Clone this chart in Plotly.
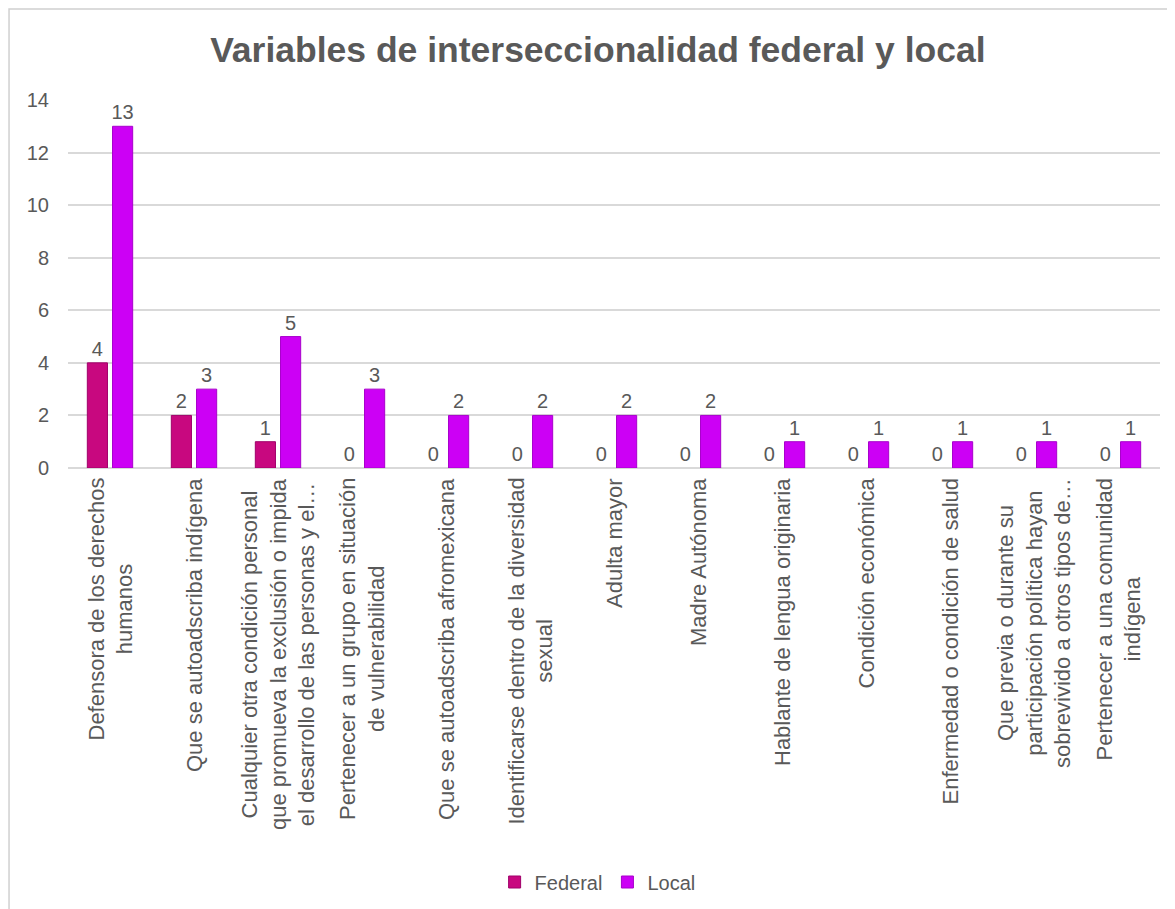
import plotly.graph_objects as go

categories = [
    "Defensora de los derechos<br>humanos",
    "Que se autoadscriba indígena",
    "Cualquier otra condición personal<br>que promueva la exclusión o impida<br>el desarrollo de las personas y el…",
    "Pertenecer a un grupo en situación<br>de vulnerabilidad",
    "Que se autoadscriba afromexicana",
    "Identificarse dentro de la diversidad<br>sexual",
    "Adulta mayor",
    "Madre Autónoma",
    "Hablante de lengua originaria",
    "Condición económica",
    "Enfermedad o condición de salud",
    "Que previa o durante su<br>participación política hayan<br>sobrevivido a otros tipos de…",
    "Pertenecer a una comunidad<br>indígena",
]
federal = [4, 2, 1, 0, 0, 0, 0, 0, 0, 0, 0, 0, 0]
local = [13, 3, 5, 3, 2, 2, 2, 2, 1, 1, 1, 1, 1]
y_ticks = [0, 2, 4, 6, 8, 10, 12, 14]

GREY = "#595959"
FONT = "Arial, Liberation Sans, sans-serif"


def outline(values):
    # no outline on empty bars, otherwise a stub shows on the baseline
    return [1 if v else 0 for v in values]


fig = go.Figure()
fig.add_trace(go.Bar(
    x=categories, y=federal, name="Federal",
    marker=dict(color="#C8087F",
                line=dict(color="#A0006A", width=outline(federal))),
    text=federal, textposition="outside", cliponaxis=False,
    constraintext="none",
    textfont=dict(color=GREY, size=20),
))
fig.add_trace(go.Bar(
    x=categories, y=local, name="Local",
    marker=dict(color="#CC00F5",
                line=dict(color="#A800CC", width=outline(local))),
    text=local, textposition="outside", cliponaxis=False,
    constraintext="none",
    textfont=dict(color=GREY, size=20),
))

# category labels: rotated, lines centred like the original
for cat in categories:
    fig.add_annotation(
        x=cat, y=0, xref="x", yref="paper",
        text=cat, showarrow=False, textangle=-90,
        xanchor="center", yanchor="top", align="center",
        yshift=-8, font=dict(size=22, color=GREY),
    )

fig.update_layout(
    width=1175, height=909,
    margin=dict(l=60, r=23, t=92, b=449),
    paper_bgcolor="white", plot_bgcolor="white",
    font=dict(family=FONT, color=GREY, size=20),
    title=dict(
        text="<b>Variables de interseccionalidad federal y local</b>",
        x=0.502, xanchor="center", y=0.954, yanchor="middle",
        font=dict(size=35.5, color=GREY),
    ),
    barmode="group", bargap=0.40, bargroupgap=0.2,
    showlegend=True,
    legend=dict(
        orientation="h", x=0.485, xanchor="center",
        y=-1.125, yanchor="middle",
        font=dict(size=20, color=GREY),
        itemwidth=30,
    ),
    # chart frame (only top/left edges visible in the crop)
    shapes=[dict(
        type="rect", xref="paper", yref="paper",
        x0=-0.054, x1=1.1, y0=-1.3, y1=1.247,
        line=dict(color="#d0d0d0", width=1.5), layer="below",
    )],
)
fig.update_yaxes(
    range=[0, 14], tickvals=y_ticks,
    showgrid=True, gridcolor="#d9d9d9", gridwidth=1.5,
    zeroline=True, zerolinecolor="#d9d9d9", zerolinewidth=1.5,
    showline=False, ticklabelstandoff=18,
    tickfont=dict(size=20, color=GREY),
)
fig.update_xaxes(showticklabels=False, showline=False, showgrid=False)

fig.write_html("out.html")
